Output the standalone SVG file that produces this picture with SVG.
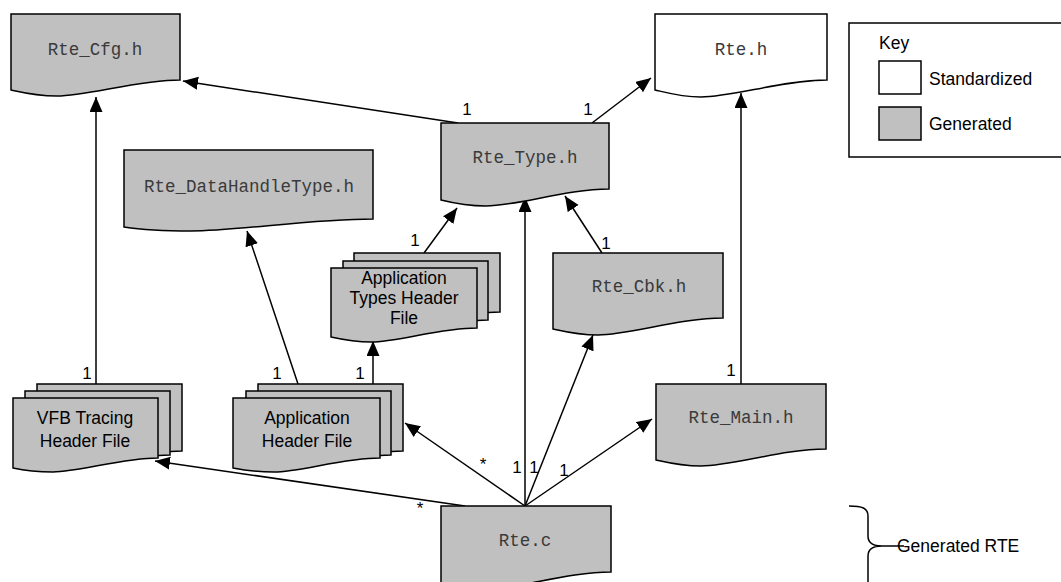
<svg xmlns="http://www.w3.org/2000/svg" width="1061" height="582" viewBox="0 0 1061 582">
<style>
.doc{fill:#c0c0c0;stroke:#000;stroke-width:1.5;stroke-linejoin:miter}
.std{fill:#fff;stroke:#000;stroke-width:1.5}
.mono{font-family:"Liberation Mono","Courier New",monospace;font-size:17.5px;fill:#3a3a3a;text-anchor:middle}
.sans{font-family:"Liberation Sans",Arial,sans-serif;font-size:17.5px;fill:#000}
.mid{text-anchor:middle}
.lbl{font-family:"Liberation Sans",Arial,sans-serif;font-size:17px;fill:#000;text-anchor:middle}
.con{stroke:#000;stroke-width:1.5;fill:none}
.arr{marker-end:url(#ah)}
</style>
<defs>
<marker id="ah" markerUnits="userSpaceOnUse" markerWidth="16" markerHeight="14" refX="15" refY="6.5" orient="auto">
<path d="M0,0 L15,6.5 L0,13 Z" fill="#000"/>
</marker>
</defs>
<rect width="1061" height="582" fill="#fff"/>

<g id="connectors">
<line class="con arr" x1="458" y1="123" x2="183" y2="81"/>
<line class="con arr" x1="592" y1="123" x2="651" y2="78"/>
<line class="con arr" x1="96" y1="384" x2="96" y2="97"/>
<line class="con arr" x1="298" y1="384" x2="247" y2="231"/>
<line class="con arr" x1="373" y1="384" x2="373" y2="341"/>
<line class="con arr" x1="424" y1="253" x2="457" y2="208"/>
<line class="con arr" x1="525" y1="506" x2="525" y2="197"/>
<line class="con arr" x1="602" y1="253" x2="565" y2="196"/>
<line class="con arr" x1="525" y1="506" x2="593" y2="335"/>
<line class="con arr" x1="525" y1="506" x2="652" y2="419"/>
<line class="con arr" x1="525" y1="506" x2="405" y2="423"/>
<line class="con arr" x1="465" y1="506" x2="155" y2="461"/>
<line class="con arr" x1="741" y1="384" x2="741" y2="93"/>
<text class="lbl" x="467" y="115">1</text>
<text class="lbl" x="588" y="115">1</text>
<text class="lbl" x="87" y="379">1</text>
<text class="lbl" x="277" y="379">1</text>
<text class="lbl" x="360" y="379">1</text>
<text class="lbl" x="415" y="246">1</text>
<text class="lbl" x="606" y="249">1</text>
<text class="lbl" x="731" y="376">1</text>
<text class="lbl" x="483" y="470">*</text>
<text class="lbl" x="517" y="473">1</text>
<text class="lbl" x="534" y="473">1</text>
<text class="lbl" x="564" y="476">1</text>
<text class="lbl" x="420" y="514">*</text>
</g>

<g id="rte_cfg">
<path class="doc" d="M11,14 H180 V80 C138,80 87,96 57,96 C36,96 20,92 11,90 Z"/>
<text class="mono" x="95" y="55">Rte_Cfg.h</text>
</g>

<g id="rte_h">
<path class="std" d="M655,14 H827 V80 C784,80 732,97 701,97 C681,97 664,92 655,90 Z"/>
<text class="mono" x="741" y="55">Rte.h</text>
</g>

<g id="rte_type">
<path class="doc" d="M441,123 H609 V189 C567,189 517,206 486,206 C466,206 449,202 441,200 Z"/>
<text class="mono" x="525" y="163">Rte_Type.h</text>
</g>

<g id="rte_datahandletype">
<path class="doc" d="M124,150 H373 V219 C311,219 236,231 191,231 C160,231 137,229 124,227 Z"/>
<text class="mono" x="249" y="192">Rte_DataHandleType.h</text>
</g>

<g id="rte_cbk">
<path class="doc" d="M553,253 H723 V318 C680,318 629,335 598,335 C578,335 562,331 553,329 Z"/>
<text class="mono" x="639" y="292">Rte_Cbk.h</text>
</g>

<g id="rte_main">
<path class="doc" d="M656,384 H826 V449 C783,449 732,466 701,466 C681,466 665,462 656,460 Z"/>
<text class="mono" x="741" y="423">Rte_Main.h</text>
</g>

<g id="rte_c">
<path class="doc" d="M441,506 H611 V572 C568,572 517,589 486,589 C466,589 450,585 441,583 Z"/>
<text class="mono" x="525" y="546">Rte.c</text>
</g>

<g id="app_types_header">
<path class="doc" d="M354,253 H500 V312 C463,312 420,326 394,326 C377,326 363,322 354,320 Z"/>
<path class="doc" d="M343,261 H488 V320 C452,320 409,334 383,334 C366,334 352,330 343,328 Z"/>
<path class="doc" d="M331,268 H477 V328 C440,328 397,342 371,342 C354,342 340,339 331,337 Z"/>
<text class="sans mid" x="404" y="284">Application</text>
<text class="sans mid" x="404" y="304">Types Header</text>
<text class="sans mid" x="404" y="324">File</text>
</g>

<g id="vfb_tracing_header">
<path class="doc" d="M37,384 H182 V451 C146,451 103,465 77,465 C60,465 46,462 37,460 Z"/>
<path class="doc" d="M25,391 H170 V455 C134,455 91,469 65,469 C48,469 34,466 25,464 Z"/>
<path class="doc" d="M13,398 H158 V458 C122,458 79,472 53,472 C36,472 22,470 13,468 Z"/>
<text class="sans mid" x="85" y="424">VFB Tracing</text>
<text class="sans mid" x="85" y="447">Header File</text>
</g>

<g id="application_header">
<path class="doc" d="M258,384 H403 V451 C367,451 324,465 298,465 C281,465 267,462 258,460 Z"/>
<path class="doc" d="M246,391 H391 V455 C355,455 312,469 286,469 C269,469 255,466 246,464 Z"/>
<path class="doc" d="M233,398 H380 V458 C343,458 300,472 274,472 C257,472 243,470 233,468 Z"/>
<text class="sans mid" x="307" y="424">Application</text>
<text class="sans mid" x="307" y="447">Header File</text>
</g>

<g id="key">
<rect x="849" y="23" width="220" height="134" fill="#fff" stroke="#000" stroke-width="1.5"/>
<text class="sans" x="879" y="49">Key</text>
<rect x="879" y="61" width="42" height="33" fill="#fff" stroke="#000" stroke-width="1.5"/>
<text class="sans" x="929" y="85">Standardized</text>
<rect x="879" y="107" width="42" height="33" fill="#c0c0c0" stroke="#000" stroke-width="1.5"/>
<text class="sans" x="929" y="130">Generated</text>
</g>

<g id="generated_rte">
<path class="con" d="M849,506 C862,506 868,508 868,516 V536 C868,542 872,546 882,546 C872,546 868,550 868,556 V585"/>
<line class="con" x1="882" y1="546" x2="904" y2="546"/>
<text class="sans" x="897" y="552">Generated RTE</text>
</g>
</svg>
